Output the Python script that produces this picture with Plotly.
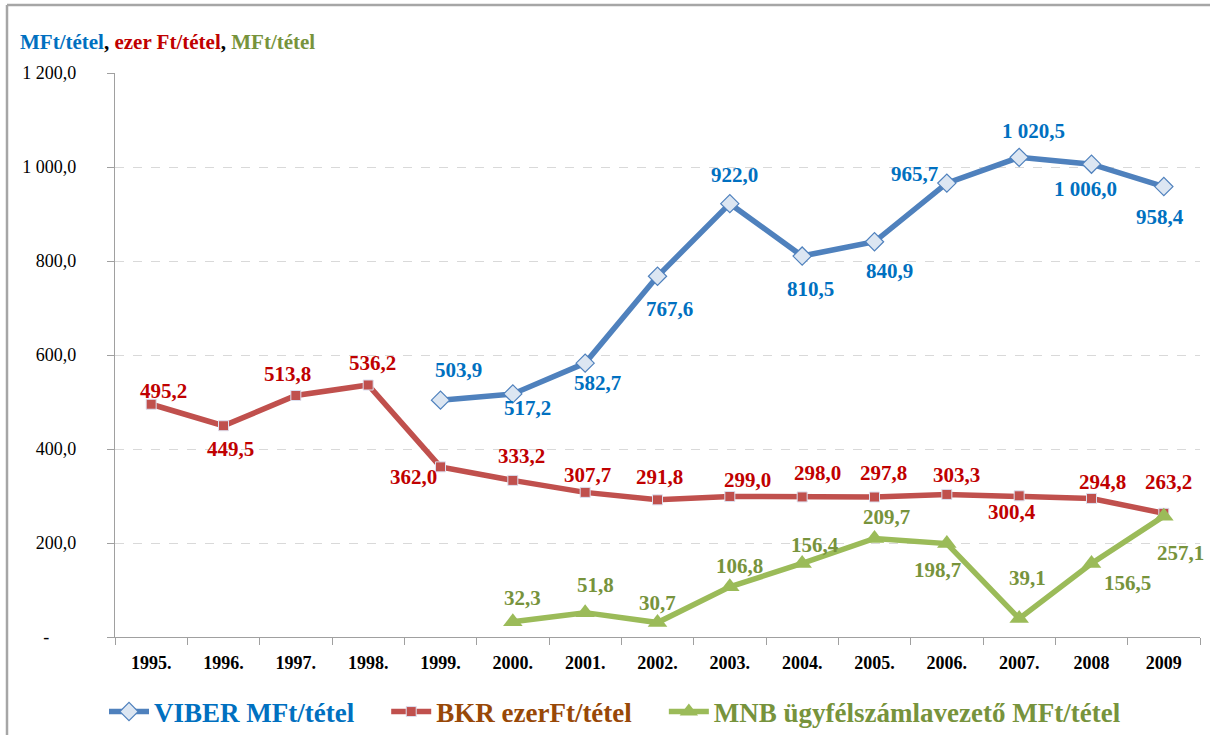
import plotly.graph_objects as go

years = ["1995.", "1996.", "1997.", "1998.", "1999.", "2000.", "2001.", "2002.",
         "2003.", "2004.", "2005.", "2006.", "2007.", "2008", "2009"]

viber_years = years[4:]
viber = [503.9, 517.2, 582.7, 767.6, 922.0, 810.5, 840.9, 965.7, 1020.5, 1006.0, 958.4]

bkr_years = years
bkr = [495.2, 449.5, 513.8, 536.2, 362.0, 333.2, 307.7, 291.8, 299.0, 298.0, 297.8,
       303.3, 300.4, 294.8, 263.2]

mnb_years = years[5:]
mnb = [32.3, 51.8, 30.7, 106.8, 156.4, 209.7, 198.7, 39.1, 156.5, 257.1]

y_ticks = [0, 200, 400, 600, 800, 1000, 1200]
y_ticktext = ["-\u00a0\u00a0\u00a0\u00a0\u00a0\u00a0", "200,0", "400,0", "600,0", "800,0",
              "1 000,0", "1 200,0"]

# label offsets (pixels, relative to each point): style only
viber_lbl = [(18, 30), (15, -14), (12, -20), (12, -33), (5, 29), (8, -33), (15, -29),
             (-32, 9), (14, 26), (-6, -25), (-4, -30)]
bkr_lbl = [(12, 13), (7, -23), (-8, 22), (4, 22), (-27, -10), (9, 24), (2, 17), (2, 23),
           (18, 16), (15, 24), (9, 24), (10, 19), (-7, -16), (11, 16), (5, 31)]
mnb_lbl = [(10, 24), (10, 28), (0, 20), (10, 21), (13, 18), (12, 21), (-9, -26),
           (8, 41), (36, -20), (17, -37)]


def fmt(v):
    return f"{v:,.1f}".replace(",", " ").replace(".", ",")


FONT = "Liberation Serif, Times New Roman, DejaVu Serif, serif"
PAD = "\u00a0" * 4

fig = go.Figure()
series = [
    ("VIBER MFt/tétel", viber_years, viber, viber_lbl, "#4F81BD", "#0070C0", "#0070C0",
     dict(symbol="diamond", size=14, color="#DCE6F2", line=dict(color="#4F81BD", width=1.2))),
    ("BKR ezerFt/tétel", bkr_years, bkr, bkr_lbl, "#C0504D", "#C00000", "#984807",
     dict(symbol="square", size=10, color="#C0504D", line=dict(color="#DCE0F0", width=1))),
    ("MNB ügyfélszámlavezető MFt/tétel", mnb_years, mnb, mnb_lbl, "#9BBB59", "#77933C", "#77933C",
     dict(symbol="triangle-up", size=17, color="#9BBB59")),
]

annotations = []
for name, xs, ys, lbl, lc, tc, legc, mk in series:
    fig.add_trace(go.Scatter(
        x=xs, y=ys, mode="lines+markers",
        name=f'<span style="color:{legc}">{name}</span>' + PAD,
        line=dict(color=lc, width=5.5), marker=mk, cliponaxis=False,
    ))
    for xc, yv, (dx, dy) in zip(xs, ys, lbl):
        annotations.append(dict(
            x=years.index(xc), y=yv, xref="x", yref="y", text=fmt(yv), showarrow=False,
            xanchor="center", yanchor="middle", xshift=dx, yshift=dy,
            font=dict(family=FONT, size=21, color=tc, weight="bold")))

W, H = 1210, 735
L, R, T, B = 115, 10, 73, 98
pw, ph = W - L - R, H - T - B


def px(x):
    return (x - L) / pw


def py(y):
    return (H - B - y) / ph


annotations.append(dict(
    xref="paper", yref="paper", x=px(18), y=py(42), xanchor="left", yanchor="middle",
    showarrow=False, font=dict(family=FONT, size=21, weight="bold", color="black"),
    text='<span style="color:#0070C0">MFt/tétel</span>, '
         '<span style="color:#C00000">ezer Ft/tétel</span>, '
         '<span style="color:#77933C">MFt/tétel</span>'))

BORDER = dict(color="#A6A6A6", width=2.5)

fig.update_layout(
    width=W, height=H,
    margin=dict(l=L, r=R, t=T, b=B, autoexpand=False),
    paper_bgcolor="white", plot_bgcolor="white",
    font=dict(family=FONT, color="black"),
    showlegend=True,
    legend=dict(orientation="h", x=px(104), xanchor="left", y=py(712), yanchor="middle",
                font=dict(family=FONT, size=27, weight="bold"),
                itemwidth=40, bgcolor="rgba(0,0,0,0)"),
    xaxis=dict(type="category", categoryorder="array", categoryarray=years,
               range=[-0.5, 14.5], showgrid=False, showline=True, linecolor="#A0A0A0",
               linewidth=1.2, ticks="outside", tickson="boundaries", ticklen=7,
               tickcolor="#A0A0A0",
               tickfont=dict(family=FONT, size=18, weight="bold", color="black"),
               ticklabelstandoff=9, fixedrange=True),
    yaxis=dict(range=[0, 1200], tickvals=y_ticks, ticktext=y_ticktext, showgrid=True,
               gridcolor="#D9D9D9", griddash="dash", gridwidth=1, showline=True,
               linecolor="#A0A0A0", linewidth=1.2, ticks="outside", ticklen=7,
               tickcolor="#A0A0A0", tickfont=dict(family=FONT, size=18, color="black"),
               ticklabelstandoff=27, zeroline=False, fixedrange=True),
    annotations=annotations,
    shapes=[
        dict(type="line", xref="paper", yref="paper", x0=px(7), x1=px(1215),
             y0=py(5), y1=py(5), line=BORDER),
        dict(type="line", xref="paper", yref="paper", x0=px(7), x1=px(7),
             y0=py(5), y1=py(745), line=BORDER),
    ],
)

fig.write_html("out.html", config={"displayModeBar": False},
               post_script="document.body.style.margin='0';")
